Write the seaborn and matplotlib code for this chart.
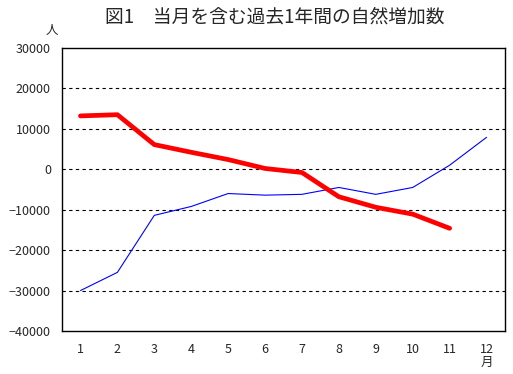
import numpy as np
import pandas as pd
import matplotlib
matplotlib.use("Agg")
import matplotlib.pyplot as plt
import seaborn as sns

sns.set_style("white")
plt.rcParams['font.family'] = ['Noto Sans CJK JP', 'DejaVu Sans']

# data
months = list(range(1, 13))
red_vals = [13200, 13500, 6100, 4200, 2400, 200, -800, -6800, -9400, -11100, -14600, np.nan]
blue_vals = [-30000, -25500, -11400, -9200, -6000, -6400, -6200, -4500, -6200, -4500, 1000, 7900]

df = pd.DataFrame({'month': months, 'red': red_vals, 'blue': blue_vals})

fig = plt.figure(figsize=(5.13, 3.74), dpi=100)
ax = fig.add_axes([0.1209, 0.115, 0.8635, 0.7567])

sns.lineplot(data=df, x='month', y='blue', ax=ax, color='#0000ff', linewidth=0.8)
sns.lineplot(data=df, x='month', y='red', ax=ax, color='#ff0000', linewidth=3.4)

ax.set_xlim(0.5, 12.5)
ax.set_ylim(-40000, 30000)

for yv in range(-30000, 30000, 10000):
    ax.axhline(yv, color='black', linestyle=(0, (3, 3)), linewidth=0.8, zorder=0)

ax.set_yticks(range(-40000, 30001, 10000))
ax.set_yticklabels([str(v).replace('-', '\u2212') for v in range(-40000, 30001, 10000)],
                   fontsize=9)
ax.set_xticks(months)
ax.set_xticklabels([str(m) for m in months], fontsize=9)
ax.set_xticks(np.arange(1.5, 12, 1), minor=True)
ax.tick_params(axis='x', which='major', length=0, pad=9)
ax.tick_params(axis='x', which='minor', direction='in', length=3, width=0.8)
ax.tick_params(axis='y', length=0, pad=8)

for s in ax.spines.values():
    s.set_visible(True)
    s.set_color('black')
    s.set_linewidth(1.0)

ax.set_xlabel('')
ax.set_ylabel('')

fig.text(0.536, 0.955, '図1　当月を含む過去1年間の自然増加数', ha='center', va='center',
         fontsize=13.5)
fig.text(0.101, 0.918, '人', ha='center', va='center', fontsize=9)
fig.text(0.949, 0.032, '月', ha='center', va='center', fontsize=9)

fig.savefig('out.png', dpi=100, facecolor='white')
